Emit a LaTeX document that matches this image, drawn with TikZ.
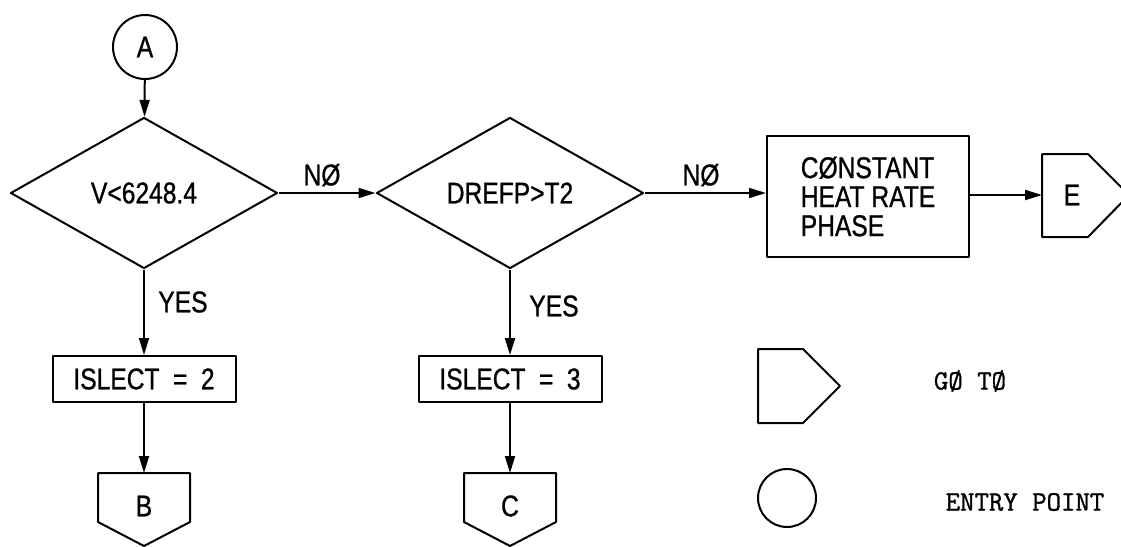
\documentclass[tikz,border=0pt]{standalone}
\usepackage{fontspec}
\setmainfont{Liberation Sans}[FakeStretch=0.82,FakeBold=0.8]
\setmonofont{Latin Modern Mono}[FakeBold=1.2]
\usetikzlibrary{shapes.geometric,arrows.meta,calc}
\begin{document}
\begin{tikzpicture}[x=1pt,y=-1pt,
  every node/.style={font=\fontsize{30}{29}\selectfont, inner sep=0pt},
  ln/.style={line width=2pt, line join=round},
  arr/.style={ln, -{Triangle[length=17pt,width=10pt]}},
  dec/.style={ln, draw, diamond, minimum width=267pt, minimum height=151pt},
  proc/.style={ln, draw, rectangle, minimum width=202pt, minimum height=121pt, align=left},
  box/.style={ln, draw, rectangle, minimum width=183pt, minimum height=46pt},
  circ/.style={ln, draw, circle, minimum size=64pt},
  mono/.style={font=\fontsize{28}{30}\ttfamily}
]
\clip (0,0) rectangle (1121,546);
% main flow
\node[circ] (A) at (145,47) {A};
\node[dec] (D1) at (144,193) {V<6248.4};
\node[dec] (D2) at (510,193) {DREFP>T2};
\node[proc] (P) at (868,196.5) {CØNSTANT\\HEAT RATE\\PHASE};
\node[box] (I2) at (144,379) {ISLECT\hspace{0.45em}=\hspace{0.45em}2};
\node[box] (I3) at (510,379) {ISLECT\hspace{0.45em}=\hspace{0.45em}3};
% off-page connectors
\node (B) at (144,506) {B};
\node (C) at (510,506) {C};
\node (E) at (1072,195) {E};
\coordinate (Btop) at ($(B)+(0,-33)$);
\coordinate (Ctop) at ($(C)+(0,-33)$);
\coordinate (Ein) at ($(E)+(-30,0)$);
\draw[ln] ($(B)+(-46,-33)$) -- ($(B)+(46,-33)$) -- ($(B)+(46,16)$) -- ($(B)+(0,40)$) -- ($(B)+(-46,16)$) -- cycle;
\draw[ln] ($(C)+(-46,-33)$) -- ($(C)+(46,-33)$) -- ($(C)+(46,16)$) -- ($(C)+(0,40)$) -- ($(C)+(-46,16)$) -- cycle;
\draw[ln] ($(E)+(-30,-41)$) -- ($(E)+(16,-41)$) -- ($(E)+(57,0)$) -- ($(E)+(16,42)$) -- ($(E)+(-30,42)$) -- cycle;
% labels
\node (no1) at (322,175) {NØ};
\node (no2) at (701,175) {NØ};
\node (yes1) at (183,302) {YES};
\node (yes2) at (554,306) {YES};
% connectors
\draw[arr] (A) -- (D1);
\draw[arr] (D1.east) -- (D2.west);
\draw[arr] (D2.east) -- (D2.east -| P.west);
\draw[arr] (P.east |- Ein) -- (Ein);
\draw[arr] (D1.south) -- (I2.north);
\draw[arr] (I2.south) -- (Btop);
\draw[arr] (D2.south) -- (I3.north);
\draw[arr] (I3.south) -- (Ctop);
% legend
\draw[ln] (758,349) -- (803,349) -- (840,386) -- (803,423) -- (758,423) -- cycle;
\node[circ, minimum size=58pt] (entry) at (787,498) {};
\node[mono] (gotolbl) at (970,381) {GØ TØ};
\node[mono] (entrylbl) at (1025,502) {ENTRY POINT};
\end{tikzpicture}
\end{document}
